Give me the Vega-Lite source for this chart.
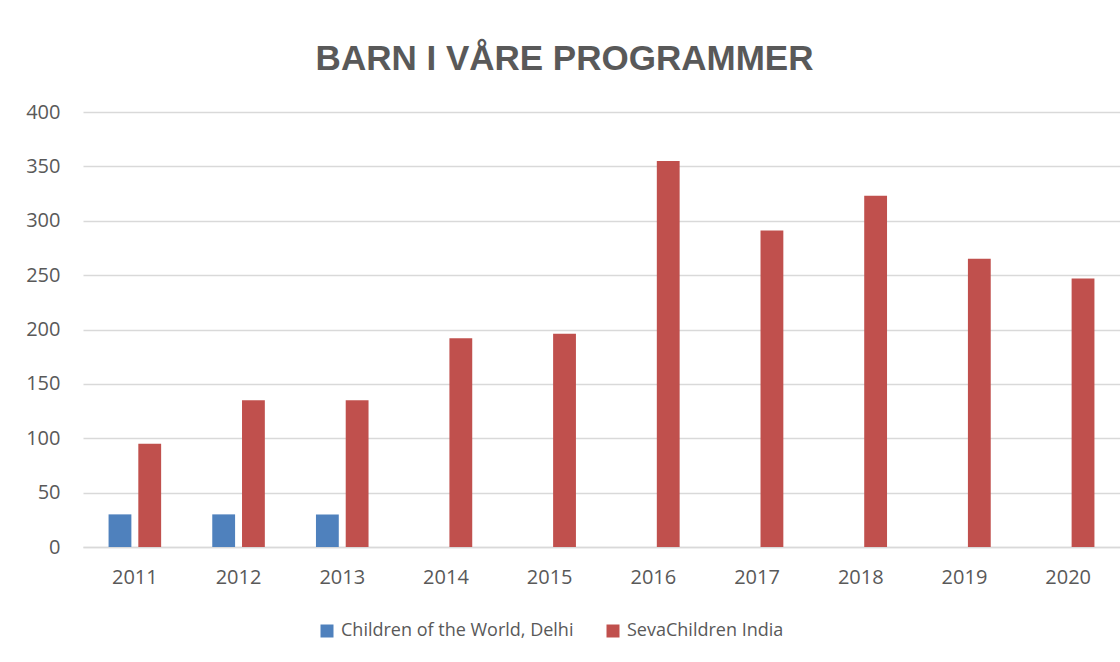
{
  "$schema": "https://vega.github.io/schema/vega-lite/v6.json",
  "autosize": "none",
  "width": 1037,
  "height": 435,
  "padding": {"left": 83, "top": 112, "right": 0, "bottom": 115},
  "background": "white",
  "title": {
    "text": "BARN I VÅRE PROGRAMMER",
    "font": "Liberation Sans",
    "fontSize": 35,
    "fontWeight": "bold",
    "color": "#595959",
    "anchor": "middle",
    "frame": "group",
    "baseline": "alphabetic",
    "dx": -37,
    "offset": -3
  },
  "data": {
    "values": [
      {"year": "2011", "series": "Children of the World, Delhi", "value": 30},
      {"year": "2012", "series": "Children of the World, Delhi", "value": 30},
      {"year": "2013", "series": "Children of the World, Delhi", "value": 30},
      {"year": "2011", "series": "SevaChildren India", "value": 95},
      {"year": "2012", "series": "SevaChildren India", "value": 135},
      {"year": "2013", "series": "SevaChildren India", "value": 135},
      {"year": "2014", "series": "SevaChildren India", "value": 192},
      {"year": "2015", "series": "SevaChildren India", "value": 196},
      {"year": "2016", "series": "SevaChildren India", "value": 355},
      {"year": "2017", "series": "SevaChildren India", "value": 291},
      {"year": "2018", "series": "SevaChildren India", "value": 323},
      {"year": "2019", "series": "SevaChildren India", "value": 265},
      {"year": "2020", "series": "SevaChildren India", "value": 247}
    ]
  },
  "mark": {"type": "bar"},
  "encoding": {
    "x": {
      "field": "year",
      "type": "nominal",
      "scale": {"paddingInner": 0.493, "paddingOuter": 0.2465},
      "axis": {
        "title": null,
        "labelAngle": 0,
        "labelFont": "Open Sans",
        "labelFontSize": 20,
        "labelColor": "#595959",
        "labelPadding": 20,
        "ticks": false,
        "domainColor": "#d9d9d9",
        "domainWidth": 1.5
      }
    },
    "xOffset": {
      "field": "series",
      "type": "nominal",
      "scale": {"domain": ["Children of the World, Delhi", "SevaChildren India"], "paddingInner": 0.233, "paddingOuter": 0}
    },
    "y": {
      "field": "value",
      "type": "quantitative",
      "scale": {"domain": [0, 400], "nice": false},
      "axis": {
        "title": null,
        "values": [0, 50, 100, 150, 200, 250, 300, 350, 400],
        "labelFont": "Open Sans",
        "labelFontSize": 20,
        "labelColor": "#595959",
        "labelPadding": 23,
        "ticks": false,
        "domain": false,
        "gridColor": "#d9d9d9",
        "gridWidth": 1.5
      }
    },
    "color": {
      "field": "series",
      "type": "nominal",
      "scale": {"domain": ["Children of the World, Delhi", "SevaChildren India"], "range": ["#4F81BD", "#C0504D"]},
      "legend": {
        "title": null,
        "orient": "none",
        "direction": "horizontal",
        "legendX": 235,
        "legendY": 510,
        "padding": 0,
        "symbolType": "square",
        "symbolSize": 169,
        "symbolStrokeWidth": 0,
        "symbolOpacity": 1,
        "labelFont": "Open Sans",
        "labelFontSize": 18,
        "labelLimit": 0,
        "labelColor": "#595959",
        "labelOffset": 5,
        "columnPadding": 30
      }
    }
  },
  "config": {
    "view": {"stroke": null}
  }
}
